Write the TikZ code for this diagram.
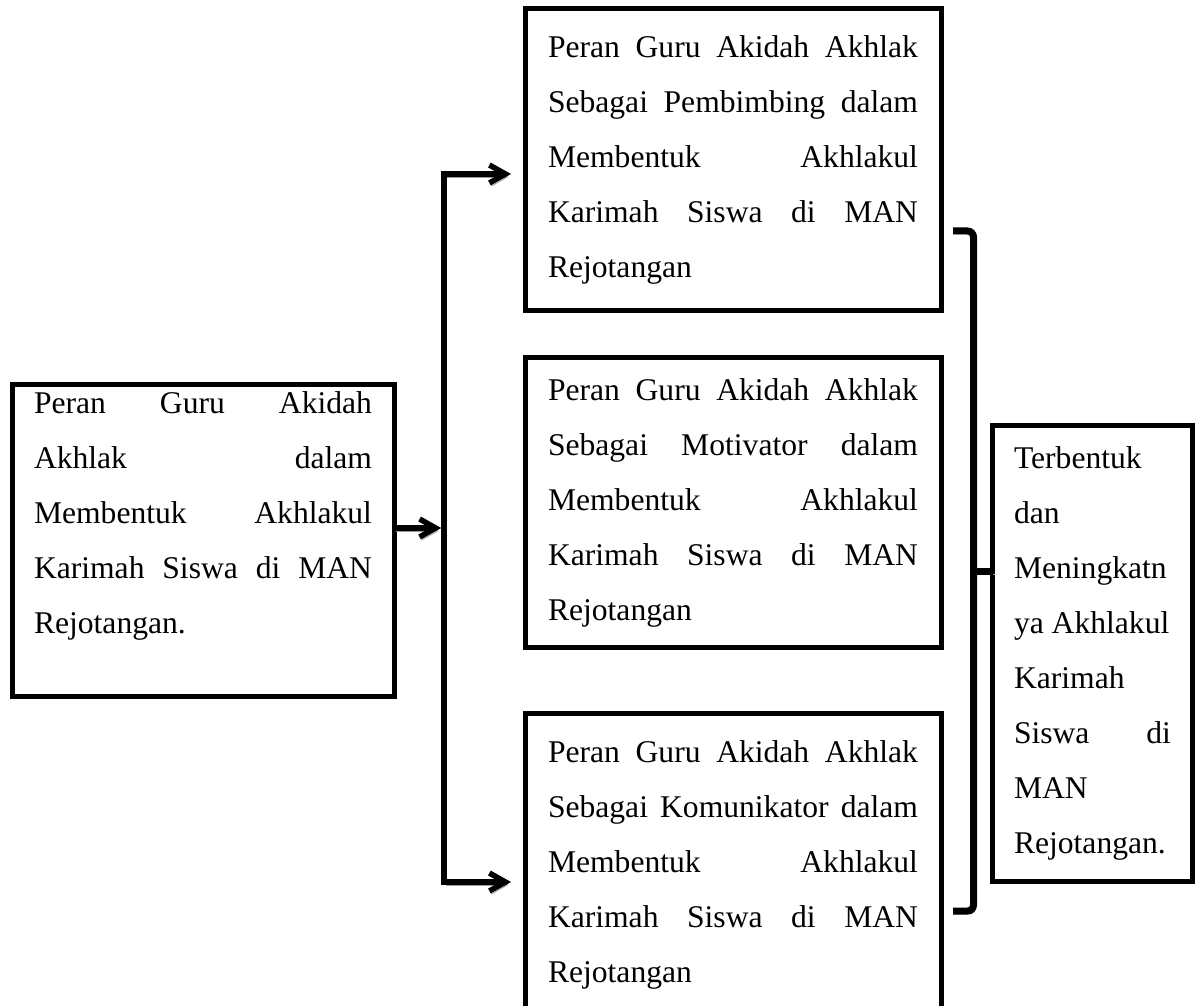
\documentclass[tikz,border=0pt]{standalone}
\usepackage{fontspec}
\setmainfont{Liberation Serif}
\usetikzlibrary{arrows.meta}
\newcommand{\boxfont}{\fontsize{15.8}{27.5}\selectfont\tolerance=10000\hbadness=10000\hyphenpenalty=10000}

\begin{document}
\begin{tikzpicture}[x=0.5pt, y=-0.5pt,
    box/.style={draw, line width=2.5pt, outer sep=0pt, inner ysep=0pt, align=justify, anchor=north west, font=\boxfont},
    shadowed/.style={preaction={draw=black!40, transform canvas={shift={(1pt,-1.5pt)}}}},
    conn/.style={line width=2.75pt, shadowed},
    tip/.style={-{Straight Barb[length=8pt, width=9pt]}},
    brace/.style={line width=3.5pt, rounded corners=3pt, shadowed}]
    \useasboundingbox (0,0) rectangle (1197,1005);

    % Peran guru (kiri)
    \node[box, text width=169pt, inner xsep=11pt, minimum height=156pt] (peran) at (12,384)
        {Peran Guru Akidah\linebreak Akhlak dalam\linebreak Membentuk Akhlakul\linebreak Karimah Siswa di MAN\linebreak Rejotangan.\\ \mbox{}};

    % Tiga peran
    \node[box, text width=185pt, inner xsep=11.5pt, minimum height=151pt] (pembimbing) at (525,8.5)
        {Peran Guru Akidah Akhlak\linebreak Sebagai Pembimbing dalam\linebreak Membentuk Akhlakul\linebreak Karimah Siswa di MAN\linebreak Rejotangan};
    \node[box, text width=185pt, inner xsep=11.5pt, minimum height=145pt] (motivator) at (525,357.5)
        {Peran Guru Akidah Akhlak\linebreak Sebagai Motivator dalam\linebreak Membentuk Akhlakul\linebreak Karimah Siswa di MAN\linebreak Rejotangan};
    \node[box, text width=185pt, inner xsep=11.5pt, minimum height=151pt] (komunikator) at (525,713.5)
        {Peran Guru Akidah Akhlak\linebreak Sebagai Komunikator dalam\linebreak Membentuk Akhlakul\linebreak Karimah Siswa di MAN\linebreak Rejotangan};

    % Hasil (kanan)
    \node[box, text width=78.5pt, inner xsep=10.75pt, minimum height=228pt] (hasil) at (992.5,425)
        {Terbentuk\\ dan\\ Meningkatn\\ ya Akhlakul\\ Karimah\\ Siswa di\linebreak MAN\\ Rejotangan.};

    % Percabangan panah
    \coordinate (jt) at (444,174);
    \coordinate (jm) at (444,528);
    \coordinate (jb) at (444,882);
    \draw[conn, {Straight Barb[length=8pt, width=9pt]}-{Straight Barb[length=8pt, width=9pt]}, shorten <=7pt, shorten >=7pt]
        (jt -| pembimbing.west) -- (jt) -- (jb) -- (jb -| komunikator.west);
    \draw[conn, tip, shorten >=1.4pt] (peran.east |- jm) -- (jm);

    % Kurung ke hasil
    \coordinate (bt) at (953,231);
    \coordinate (bm) at (973.5,571);
    \coordinate (bb) at (953,911);
    \draw[brace] (bt) -- (bm |- bt) -- (bm |- bb) -- (bb);
    \draw[brace] (bm) -- (bm -| hasil.west);
\end{tikzpicture}
\end{document}
